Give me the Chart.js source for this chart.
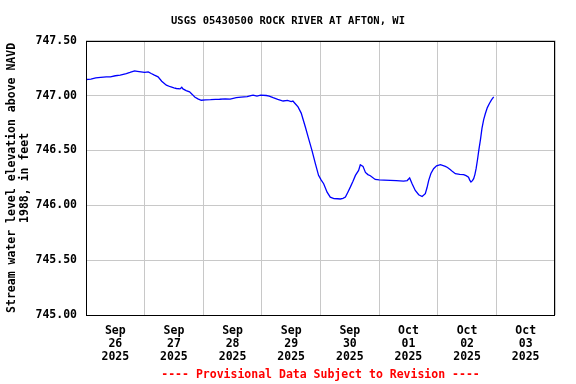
<!DOCTYPE html>
<html>
<head>
<meta charset="utf-8">
<script src="https://cdn.jsdelivr.net/npm/chart.js@4.4.1/dist/chart.umd.min.js"></script>
<style>
html,body{margin:0;padding:0;background:#fff;}
canvas{display:block;}
</style>
</head>
<body>
<canvas id="c" width="576" height="384"></canvas>
<script>
// Hours since 2025-09-26 00:00
const hours = [0,2,4,6,8.3,10,12,14,16.5,18,19.9,21,22.5,24,25.5,26.7,28,29.5,31,32.9,34.5,36,37,38.5,39.2,39.7,41,42.4,43.5,44.5,45.8,47.2,49,51,53,54.7,57,59,61.5,63.5,66,67.5,68.4,70,71.5,73.8,75,76.6,78.5,80.7,82.5,84,84.7,85.5,86.8,88.1,89.8,91.1,92.5,93.9,95.2,96.3,97.3,98.7,100,101.5,103,104.1,105.2,106.2,107.2,108.2,109.3,110.3,111.6,112.3,113.4,114.4,115.4,116.4,118.4,120,122,124.6,127,130,131.5,132.5,133.5,134.8,136.2,137.6,138.9,139.6,140.3,141.2,142.3,143.5,145.1,147.1,148,149.2,150.2,151.2,153,154.6,155.6,156.6,157.1,157.6,158.2,158.7,159.2,159.7,160.3,160.8,161.5,162.1,162.8,163.5,164.3,165.2,166,166.9];
const levels = [747.146,747.15,747.16,747.165,747.17,747.17,747.18,747.185,747.20,747.21,747.224,747.22,747.215,747.21,747.215,747.20,747.185,747.17,747.13,747.094,747.08,747.07,747.064,747.06,747.075,747.06,747.045,747.033,747.01,746.987,746.97,746.957,746.96,746.962,746.965,746.966,746.97,746.968,746.98,746.985,746.99,747.0,747.003,746.995,747.003,747.0,746.995,746.98,746.965,746.95,746.955,746.945,746.95,746.93,746.896,746.84,746.713,746.61,746.50,746.38,746.273,746.23,746.197,746.12,746.075,746.062,746.06,746.058,746.063,746.075,746.12,746.166,746.22,746.273,746.318,746.37,746.355,746.30,746.28,746.27,746.236,746.232,746.23,746.227,746.225,746.22,746.226,746.25,746.197,746.136,746.097,746.08,746.106,746.16,746.227,746.29,746.334,746.36,746.37,746.355,746.345,746.325,746.305,746.288,746.282,746.28,746.27,746.257,746.23,746.212,746.225,746.243,746.28,746.334,746.42,746.50,746.60,746.70,746.78,746.836,746.89,746.93,746.96,746.987];
const dayMonths = ["Sep","Sep","Sep","Sep","Sep","Oct","Oct","Oct"];
const dayNums = ["26","27","28","29","30","01","02","03"];
const dayYears = ["2025","2025","2025","2025","2025","2025","2025","2025"];
const yTicks = [745.0,745.5,746.0,746.5,747.0,747.5];

const FONT = "'DejaVu Sans Mono', 'Liberation Mono', monospace";
const points = hours.map((h,i)=>({x:h,y:levels[i]}));

const frame = {
  id:'frame',
  afterDraw(chart){
    const a = chart.chartArea, ctx = chart.ctx;
    ctx.save();
    ctx.strokeStyle = '#000';
    ctx.lineWidth = 1;
    ctx.strokeRect(Math.round(a.left)+0.5, Math.round(a.top)+0.5, Math.round(a.right-a.left)-1, Math.round(a.bottom-a.top)-1);
    ctx.restore();
  }
};

new Chart(document.getElementById('c'), {
  type:'line',
  data:{datasets:[{data:points,borderColor:'#0000ff',borderWidth:1.3,pointRadius:0,tension:0,fill:false}]},
  options:{
    responsive:false,animation:false,
    layout:{padding:0},
    plugins:{
      legend:{display:false},tooltip:{enabled:false},
      title:{display:true,text:'USGS 05430500 ROCK RIVER AT AFTON, WI',color:'#000',
        font:{family:FONT,size:10.5,weight:'bold',lineHeight:1.2},padding:{top:15,bottom:13}},
      subtitle:{display:true,position:'bottom',fullSize:false,text:'---- Provisional Data Subject to Revision ----',color:'#ff0000',
        font:{family:FONT,size:11.5,weight:'bold',lineHeight:1.2},padding:{top:5,bottom:2}}
    },
    scales:{
      x:{type:'linear',min:0,max:192,
        afterFit(s){s.height=48;},
        border:{display:false},
        grid:{drawTicks:false,color:(c)=> (c.tick && c.tick.value%24===0)?'#c8c8c8':'rgba(0,0,0,0)',lineWidth:1},
        ticks:{stepSize:12,autoSkip:false,maxRotation:0,padding:9,color:'#000',
          font:{family:FONT,size:11.5,weight:'bold',lineHeight:1.13},
          callback:(v)=>{ if(v%24!==12) return ''; const i=Math.floor(v/24); return [dayMonths[i],dayNums[i],dayYears[i]]; }}
      },
      y:{type:'linear',min:yTicks[0],max:yTicks[yTicks.length-1],
        afterFit(s){s.width=86;},
        afterBuildTicks(s){s.ticks=yTicks.map(v=>({value:v}));},
        border:{display:false},
        grid:{drawTicks:false,color:'#c8c8c8',lineWidth:1},
        ticks:{padding:9,color:'#000',font:{family:FONT,size:11.5,weight:'bold'},callback:(v)=>Number(v).toFixed(2)},
        title:{display:true,text:['Stream water level elevation above NAVD','1988, in feet'],color:'#000',
          font:{family:FONT,size:11.5,weight:'bold',lineHeight:1.13},padding:{top:6,bottom:0}}
      },
      yRight:{type:'linear',position:'right',display:true,
        afterFit(s){s.width=21;},
        border:{display:false},grid:{display:false},ticks:{display:false}}
    }
  },
  plugins:[frame]
});
</script>
</body>
</html>
